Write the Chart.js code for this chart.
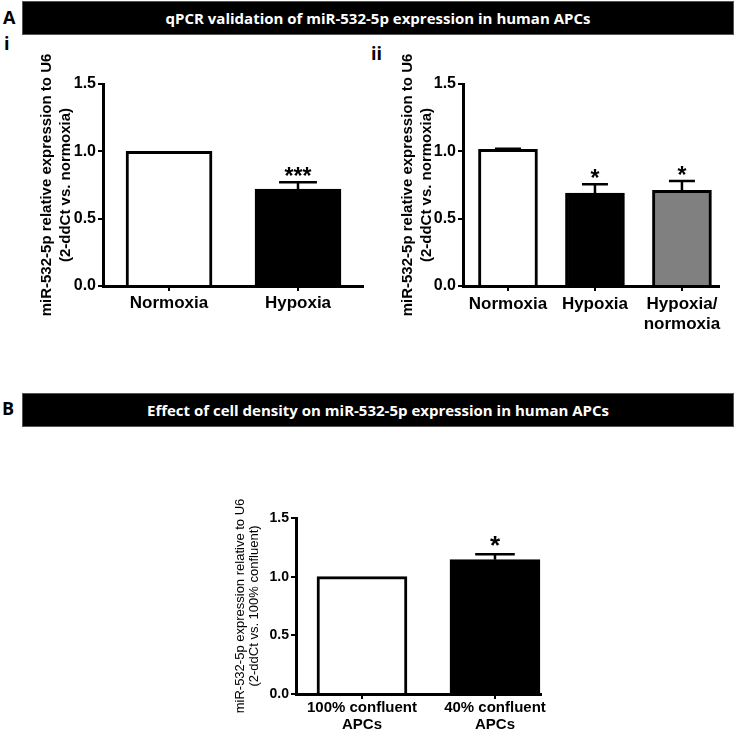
<!DOCTYPE html>
<html>
<head>
<meta charset="utf-8">
<script src="https://cdn.jsdelivr.net/npm/chart.js@4"></script>
<style>
  body { margin: 0; background: #fff; overflow: hidden; }
  #page { position: relative; width: 736px; height: 733px; font-family: "Open Sans", sans-serif; }
  .header { position: absolute; left: 22px; width: 710px; height: 32px; background: #000; border: 1px solid #555;
            color: #fff; font-weight: 700; font-size: 15px; display: flex; align-items: center; justify-content: center; }
  .lbl { position: absolute; font-weight: 700; color: #000; line-height: 1; }
  canvas { position: absolute; }
</style>
</head>
<body>
<div id="page">
  <div class="lbl" style="left:3px; top:8px; font-size:18px;">A</div>
  <div class="header" style="top:1px;">qPCR validation of miR-532-5p expression in human APCs</div>
  <div class="lbl" style="left:4px; top:34px; font-size:18px;">i</div>
  <div class="lbl" style="left:371px; top:44px; font-size:18px;">ii</div>
  <canvas id="chartI" width="350" height="286" style="left:20px; top:40px;"></canvas>
  <canvas id="chartII" width="342" height="296" style="left:385px; top:40px;"></canvas>

  <div class="lbl" style="left:2px; top:399px; font-size:18px;">B</div>
  <div class="header" style="top:393px;">Effect of cell density on miR-532-5p expression in human APCs</div>
  <canvas id="chartB" width="333" height="253" style="left:220px; top:480px;"></canvas>
</div>

<script>
// panel A i
let catsI = ["Normoxia", "Hypoxia"];
let meanI = [1.0, 0.72];
let errI = [0, 0.05];
let starsI = ["", "***"];

// panel A ii
let catsII = ["Normoxia", "Hypoxia", ["Hypoxia/", "normoxia"]];
let meanII = [1.015, 0.69, 0.71];
let errII = [0.005, 0.065, 0.07];
let starsII = ["", "*", "*"];

// panel B
let catsB = [["100% confluent", "APCs"], ["40% confluent", "APCs"]];
let meanB = [1.0, 1.145];
let errB = [0, 0.045];
let starsB = ["", "*"];

// y axis ticks, same for all three
let yTicks = [0, 0.5, 1.0, 1.5];

Chart.defaults.font.family = '"Liberation Sans", Arial, sans-serif';
Chart.defaults.color = "#000";

// draws the one-sided error bars and the significance stars
let errorBarPlugin = {
  id: "errorBars",
  afterDatasetsDraw(chart, args, opts) {
    let ctx = chart.ctx;
    let meta = chart.getDatasetMeta(0);
    let yScale = chart.scales.y;
    ctx.save();
    ctx.strokeStyle = "#000";
    ctx.lineWidth = 2.5;
    meta.data.forEach((bar, i) => {
      let top = yScale.getPixelForValue(opts.means[i] + opts.errs[i]);
      if (opts.errs[i] > 0) {
        let half = bar.width * 0.22;
        ctx.beginPath();
        ctx.moveTo(bar.x, bar.y);
        ctx.lineTo(bar.x, top);
        ctx.moveTo(bar.x - half, top);
        ctx.lineTo(bar.x + half, top);
        ctx.stroke();
      }
      if (opts.stars[i]) {
        ctx.fillStyle = "#000";
        ctx.font = "bold " + opts.starSize + 'px "Liberation Sans", Arial';
        ctx.textAlign = "center";
        ctx.textBaseline = "alphabetic";
        ctx.fillText(opts.stars[i], bar.x, top + opts.starGap);
      }
    });
    ctx.restore();
  }
};

function makeChart(id, cats, means, errs, stars, colors, cfg) {
  let ctx = document.getElementById(id).getContext("2d");
  return new Chart(ctx, {
    type: "bar",
    data: {
      labels: cats,
      datasets: [{
        data: means,
        backgroundColor: colors,
        borderColor: "#000",
        borderWidth: 3,
        barThickness: cfg.barWidth
      }]
    },
    options: {
      responsive: false,
      animation: false,
      layout: { padding: { top: cfg.padTop, right: cfg.padRight, bottom: 0, left: 0 } },
      plugins: {
        legend: { display: false },
        tooltip: { enabled: false },
        errorBars: { means: means, errs: errs, stars: stars, starSize: cfg.starSize, starGap: cfg.starGap }
      },
      scales: {
        x: {
          grid: { display: true, drawOnChartArea: false, offset: false, color: "#000", lineWidth: 2, tickLength: 5 },
          border: { color: "#000", width: 3 },
          ticks: { font: { size: cfg.xFont, weight: "bold", lineHeight: cfg.xLine }, padding: cfg.xPad, maxRotation: 0, autoSkip: false },
          afterBuildTicks: (s) => { s._startValue = cfg.start; s._valueRange = cfg.range; },
          afterFit: (s) => { s.height = cfg.xHeight; }
        },
        y: {
          min: 0,
          max: 1.5,
          afterBuildTicks: (s) => { s.ticks = yTicks.map(v => ({ value: v })); },
          grid: { display: true, drawOnChartArea: false, color: "#000", lineWidth: 2, tickLength: 5 },
          border: { color: "#000", width: 3 },
          ticks: { font: { size: cfg.yFont, weight: "bold" }, padding: 2, callback: (v) => v.toFixed(1) },
          title: {
            display: true,
            text: cfg.yTitle,
            font: { size: cfg.titleFont, weight: cfg.titleWeight, lineHeight: cfg.titleLine },
            padding: { top: cfg.titlePad, bottom: 0 }
          },
          afterFit: (s) => { s.width = cfg.yWidth; }
        }
      }
    },
    plugins: [errorBarPlugin]
  });
}

makeChart("chartI", catsI, meanI, errI, starsI, ["#fff", "#000"], {
  barWidth: 86, padTop: 44, padRight: 7, starSize: 23, starGap: 2,
  xFont: 17, xLine: 1.15, xPad: 3, xHeight: 40, start: -0.512, range: 2.016,
  yFont: 16, yWidth: 83,
  yTitle: ["miR-532-5p relative expression to U6", "(2-ddCt vs. normoxia)"],
  titleFont: 15, titleWeight: "bold", titleLine: 1.3, titlePad: 17
});

makeChart("chartII", catsII, meanII, errII, starsII, ["#fff", "#000", "#808080"], {
  barWidth: 59, padTop: 44, padRight: 8, starSize: 23, starGap: 2,
  xFont: 17, xLine: 1.2, xPad: 3, xHeight: 50, start: -0.517, range: 2.943,
  yFont: 16, yWidth: 78,
  yTitle: ["miR-532-5p relative expression to U6", "(2-ddCt vs. normoxia)"],
  titleFont: 15, titleWeight: "bold", titleLine: 1.3, titlePad: 13
});

makeChart("chartB", catsB, meanB, errB, starsB, ["#fff", "#000"], {
  barWidth: 90, padTop: 38, padRight: 12, starSize: 26, starGap: 0,
  xFont: 15, xLine: 1.15, xPad: 0, xHeight: 39, start: -0.496, range: 1.842,
  yFont: 14, yWidth: 76,
  yTitle: ["miR-532-5p expression relative to U6", "(2-ddCt vs. 100% confluent)"],
  titleFont: 13, titleWeight: "normal", titleLine: 1.1, titlePad: 13
});
</script>
</body>
</html>
